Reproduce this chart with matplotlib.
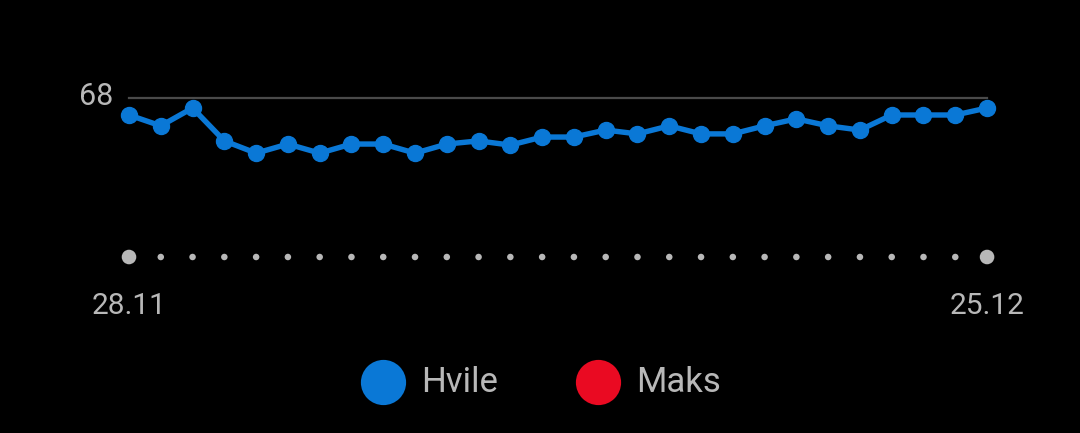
import numpy as np
import matplotlib.pyplot as plt
from matplotlib.transforms import blended_transform_factory

plt.rcParams['font.family'] = ['Roboto', 'DejaVu Sans']

# resting pulse per day, 28.11 -> 25.12
hvile = [63.0, 59.9, 65.0, 55.6, 52.1, 54.7, 52.1, 54.7, 54.7, 52.1,
         54.7, 55.6, 54.4, 56.7, 56.7, 58.7, 57.6, 59.9, 57.6, 57.6,
         59.9, 61.9, 59.9, 58.7, 63.0, 63.0, 63.0, 65.0]
ref_level = 68
first_label = "28.11"
last_label = "25.12"
legend_names = ["Hvile", "Maks"]
legend_colors = ["#0a78d6", "#ea0a22"]

blue = "#0a78d6"
grey = "#b8b8b8"
n = len(hvile)
x = np.arange(n)

fig = plt.figure(figsize=(10.8, 4.33), dpi=100, facecolor="black")
ax = fig.add_axes([0, 0, 1, 1])
ax.set_facecolor("black")
ax.axis("off")

# pixel mapping: first point at 129px, spacing 31.78px; 68 at 97.5px, 3.5px per unit
step = 31.78
ax.set_xlim(-129 / step, (1080 - 129) / step)
ax.set_ylim(ref_level - (433 - 97.5) / 3.5, ref_level + 97.5 / 3.5)

ax.plot([0, n - 1], [ref_level, ref_level], color="#4a4a4a", lw=1.6, zorder=1)
ax.text(-0.5, ref_level + 0.3, str(ref_level), color=grey, fontsize=22,
        ha="right", va="center")

ax.plot(x, hvile, color=blue, lw=3.9, marker="o", ms=11.5,
        solid_joinstyle="round", zorder=3)

# day dots along the bottom
tr = blended_transform_factory(ax.transData, ax.transAxes)
dot_y = 1 - 257 / 433
sizes = [110 if i in (0, n - 1) else 22 for i in x]
ax.scatter(x, [dot_y] * n, s=sizes, color=grey, transform=tr, lw=0)

lab_y = 1 - 306 / 433
ax.text(0, lab_y, first_label, color=grey, fontsize=21.5, ha="center",
        va="center", transform=tr)
ax.text(n - 1, lab_y, last_label, color=grey, fontsize=21.5, ha="center",
        va="center", transform=tr)

# legend
leg_y = 1 - 382 / 433
for cx, name, col in zip([383, 598], legend_names, legend_colors):
    ax.scatter([cx / 1080], [leg_y], s=1060, color=col, transform=fig.transFigure,
               lw=0)
    fig.text((cx + 38) / 1080, leg_y, name, color=grey, fontsize=25,
             ha="left", va="center")

fig.savefig("out.png", dpi=100, facecolor="black")
